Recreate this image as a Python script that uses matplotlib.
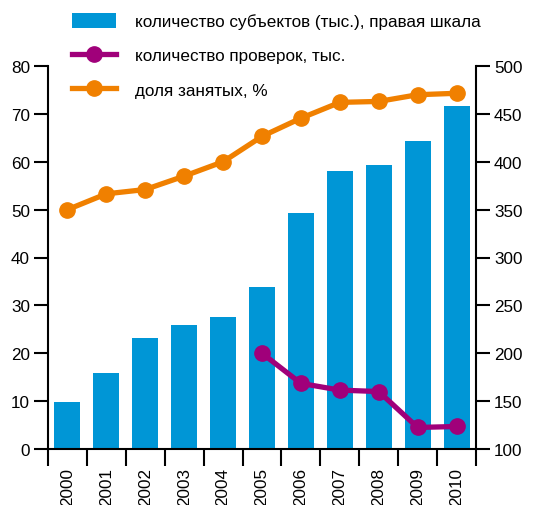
import matplotlib
matplotlib.use("Agg")
import matplotlib.pyplot as plt
from matplotlib.patches import Patch
from matplotlib.lines import Line2D

years = ["2000", "2001", "2002", "2003", "2004", "2005", "2006", "2007", "2008", "2009", "2010"]
subjects = [149, 179, 216, 229, 238, 269, 346, 390, 397, 422, 458]   # right scale
checks_years = ["2005", "2006", "2007", "2008", "2009", "2010"]
checks = [20.0, 13.7, 12.3, 12.0, 4.5, 4.7]
employed = [50.0, 53.3, 54.2, 57.0, 60.0, 65.3, 69.1, 72.4, 72.6, 74.0, 74.3]

label_bars = "количество субъектов (тыс.), правая шкала"
label_checks = "количество проверок, тыс."
label_emp = "доля занятых, %"

BLUE = "#0096d6"
PURPLE = "#a0007a"
ORANGE = "#f08000"

plt.rcParams['font.family'] = ['Liberation Sans', 'DejaVu Sans']
FS = 12.3

fig = plt.figure(figsize=(5.53, 5.06), dpi=100)
ax = fig.add_axes([48/553, 56/506, 428/553, 383/506])
ax2 = ax.twinx()

x = list(range(len(years)))
ax2.bar(x, subjects, width=0.67, color=BLUE, zorder=2)
ax2.set_ylim(100, 500)
ax2.set_yticks(range(100, 501, 50))

cx = [years.index(y) for y in checks_years]
ax.plot(cx, checks, color=PURPLE, lw=3.8, marker='o', ms=11, solid_capstyle='round')
ax.plot(x, employed, color=ORANGE, lw=3.8, marker='o', ms=11, solid_capstyle='round')
ax.set_ylim(0, 80)
ax.set_yticks(range(0, 81, 10))
ax.set_xlim(-0.5, 10.5)

ax.set_zorder(ax2.get_zorder() + 1)
ax.patch.set_visible(False)

ax.set_xticks(x)
ax.set_xticklabels(years, rotation=90, fontsize=FS)
ax.set_xticks([i - 0.5 for i in range(len(years) + 1)], minor=True)
ax.tick_params(axis='x', which='major', length=0, pad=13)
ax.tick_params(axis='x', which='minor', length=12, width=1.5, direction='out')
ax.tick_params(axis='y', length=10, width=1.5, labelsize=FS, pad=3)
ax2.tick_params(axis='y', length=10, width=1.5, labelsize=FS, pad=3)

for a in (ax, ax2):
    a.spines['top'].set_visible(False)
    for s in ('left', 'right', 'bottom'):
        a.spines[s].set_linewidth(1.5)
ax.spines['right'].set_visible(False)
ax2.spines['left'].set_visible(False)
ax2.spines['bottom'].set_visible(False)

handles = [
    Patch(facecolor=BLUE, edgecolor='none'),
    Line2D([], [], color=PURPLE, lw=3.8, marker='o', ms=11),
    Line2D([], [], color=ORANGE, lw=3.8, marker='o', ms=11),
]
fig.legend(handles, [label_bars, label_checks, label_emp], loc='upper left',
           bbox_to_anchor=(72/553, 1 - 14/506), frameon=False, fontsize=FS,
           handlelength=2.6, handleheight=0.95, handletextpad=1.1, labelspacing=1.05,
           borderpad=0, borderaxespad=0)

fig.savefig("out.png", dpi=100)
